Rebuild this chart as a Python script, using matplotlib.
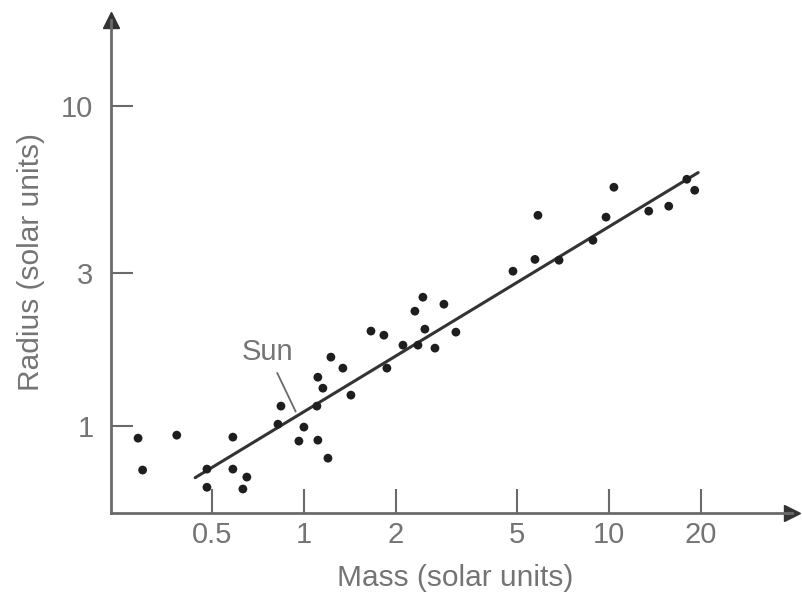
import numpy as np
import matplotlib
matplotlib.use("Agg")
import matplotlib.pyplot as plt
from matplotlib.ticker import FixedLocator, FixedFormatter, NullLocator

# star masses / radii (solar units)
mass = [0.286, 0.296, 0.383, 0.481, 0.481, 0.585, 0.585, 0.650, 0.631,
        0.841, 0.822, 1.0, 0.963, 1.111, 1.199, 1.103, 1.111, 1.154,
        1.226, 1.342, 1.426, 1.659, 1.829, 1.871, 2.112, 2.365, 2.455,
        2.311, 2.877, 2.492, 3.149, 2.689, 4.845, 5.72, 6.86, 5.85,
        8.86, 9.78, 10.38, 13.5, 15.7, 18.0, 19.1]
radius = [0.917, 0.729, 0.937, 0.644, 0.734, 0.924, 0.734, 0.693, 0.636,
          1.155, 1.014, 0.993, 0.898, 0.904, 0.794, 1.155, 1.422, 1.314,
          1.643, 1.518, 1.250, 1.982, 1.924, 1.518, 1.791, 1.791, 2.529,
          2.287, 2.405, 2.010, 1.967, 1.753, 3.05, 3.32, 3.30, 4.56,
          3.81, 4.50, 5.58, 4.70, 4.87, 5.91, 5.46]

fit_mass = [0.44, 19.6]
fit_radius = [0.69, 6.2]

xticks = [0.5, 1, 2, 5, 10, 20]
xticklabels = ["0.5", "1", "2", "5", "10", "20"]
yticks = [1, 3, 10]
yticklabels = ["1", "3", "10"]

plt.rcParams['font.family'] = ['Liberation Sans', 'DejaVu Sans']
gray = "#6a6a6a"
txt = "#747474"

fig = plt.figure(figsize=(8.02, 6.05), dpi=100)
ax = fig.add_axes([0.139, 0.152, 0.8485, 0.815])
ax.set_xscale("log")
ax.set_yscale("log")
ax.set_xlim(0.234, 39.8)
ax.set_ylim(0.535, 18.6)

ax.plot(fit_mass, fit_radius, color="#333333", lw=2.2, solid_capstyle="round")
ax.scatter(mass, radius, s=40, color="#1e1e1e", zorder=3, edgecolors="none")

ax.annotate("Sun", xy=(0.94, 1.11), xytext=(0.762, 1.70), fontsize=21,
            color=txt, ha="center", va="center",
            arrowprops=dict(arrowstyle="-", color=gray, lw=1.3,
                            shrinkA=3, shrinkB=0, relpos=(0.62, 0)))

for s in ["top", "right"]:
    ax.spines[s].set_visible(False)
for s in ["left", "bottom"]:
    ax.spines[s].set_color(gray)
    ax.spines[s].set_linewidth(2)

# arrow heads
ax.plot(1, 0, ">", color="#333333", ms=12, transform=ax.transAxes, clip_on=False)
ax.plot(0, 1, "^", color="#333333", ms=12, transform=ax.transAxes, clip_on=False)

ax.xaxis.set_major_locator(FixedLocator(xticks))
ax.xaxis.set_major_formatter(FixedFormatter(xticklabels))
ax.xaxis.set_minor_locator(NullLocator())
ax.yaxis.set_major_locator(FixedLocator(yticks))
ax.yaxis.set_major_formatter(FixedFormatter(yticklabels))
ax.yaxis.set_minor_locator(NullLocator())

ax.tick_params(axis="x", direction="in", length=17, width=1.5, color=gray,
               labelsize=21, labelcolor=txt, pad=6)
ax.tick_params(axis="y", direction="in", length=16, width=1.5, color=gray,
               labelsize=21, labelcolor=txt, pad=13)

ax.set_xlabel("Mass (solar units)", fontsize=21.5, color=txt)
ax.set_ylabel("Radius (solar units)", fontsize=21.5, color=txt)
ax.xaxis.set_label_coords(0.505, -0.103)
ax.yaxis.set_label_coords(-0.097, 0.509)

fig.savefig("out.png", dpi=100)
